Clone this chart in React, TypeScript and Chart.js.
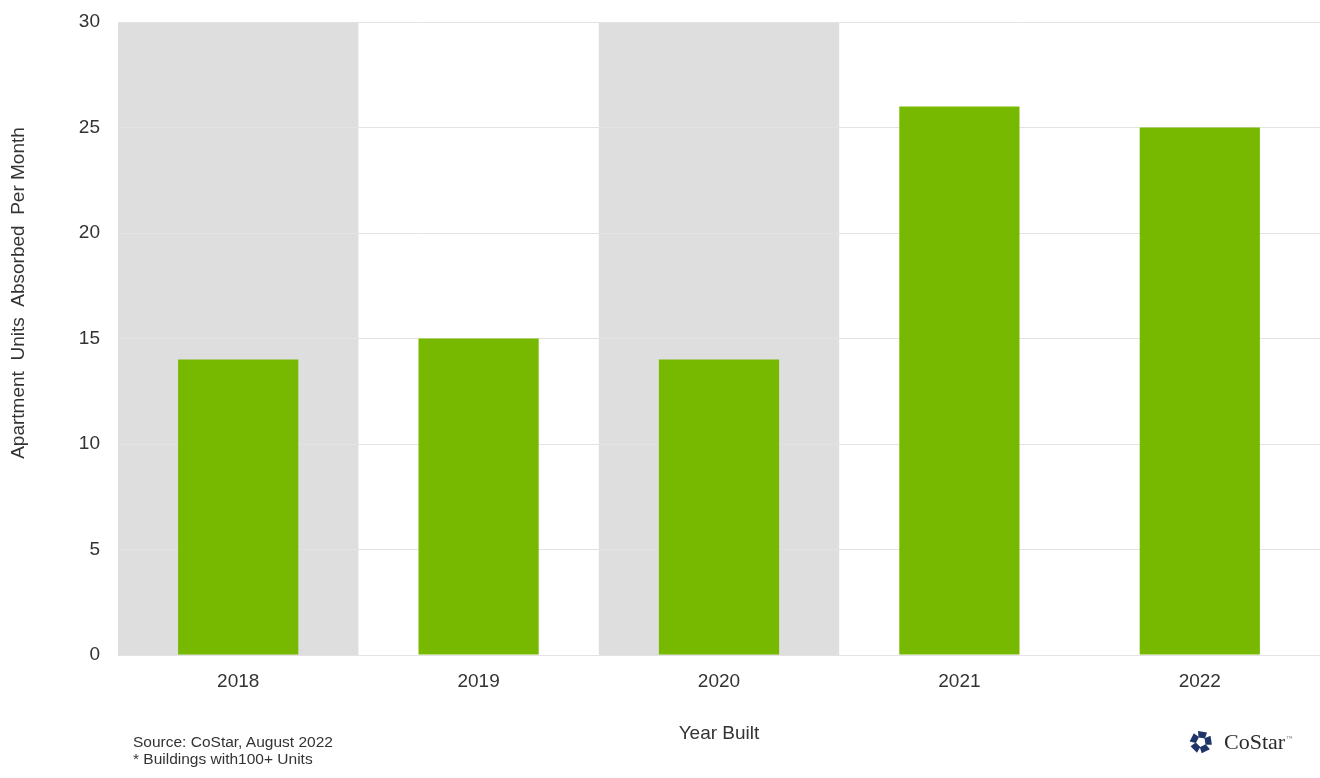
import React, { useEffect, useRef } from "react";
import { Chart, registerables } from "chart.js";

Chart.register(...registerables);

const years = ["2018", "2019", "2020", "2021", "2022"];
const unitsAbsorbed = [14, 15, 14, 26, 25];
const shadedYears = ["2018", "2020"];
const yTicks = [0, 5, 10, 15, 20, 25, 30];
const yTitle = "Apartment  Units  Absorbed  Per Month";
const xTitle = "Year Built";
const sourceLines = ["Source: CoStar, August 2022", "* Buildings with100+ Units"];
const brand = "CoStar";

const FONT = "'Liberation Sans', Arial, sans-serif";
const TEXT = "#333333";

const bandPlugin = {
  id: "bands",
  beforeDraw(chart: any) {
    const { ctx, chartArea, scales } = chart;
    const x = scales.x;
    const half = (x.getPixelForValue(1) - x.getPixelForValue(0)) / 2;
    ctx.save();
    ctx.fillStyle = "#dedede";
    shadedYears.forEach((yr) => {
      const i = years.indexOf(yr);
      const c = x.getPixelForValue(i);
      ctx.fillRect(c - half, chartArea.top, half * 2, chartArea.bottom - chartArea.top);
    });
    ctx.restore();
  },
};

const yTitlePlugin = {
  id: "ytitle",
  afterDraw(chart: any) {
    const { ctx } = chart;
    ctx.save();
    ctx.translate(19, 293);
    ctx.rotate(-Math.PI / 2);
    ctx.fillStyle = TEXT;
    ctx.font = `19px ${FONT}`;
    ctx.textAlign = "center";
    ctx.textBaseline = "middle";
    ctx.fillText(yTitle, 0, 0);
    ctx.restore();
  },
};

function Logo() {
  const shapes = [0, 1, 2, 3, 4].map((k) => (
    <polygon
      key={k}
      points="-3,-11 6,-9.5 4,-3.5 -2.5,-4.5"
      fill="#1f3569"
      transform={`rotate(${k * 72})`}
    />
  ));
  return (
    <div
      style={{
        position: "absolute",
        left: 1189,
        top: 729,
        display: "flex",
        alignItems: "center",
        height: 26,
      }}
    >
      <svg width={24} height={24} viewBox="-12 -12 24 24">
        {shapes}
      </svg>
      <span
        style={{
          fontFamily: "'Liberation Serif', 'Times New Roman', serif",
          fontSize: 22,
          color: "#2b2b2b",
          marginLeft: 11,
          lineHeight: "26px",
        }}
      >
        {brand}
      </span>
      <span style={{ fontSize: 6, color: "#777", marginLeft: 1, marginTop: -8 }}>™</span>
    </div>
  );
}

export default function App() {
  const ref = useRef<HTMLCanvasElement | null>(null);

  useEffect(() => {
    document.body.style.margin = "0";
    const canvas = ref.current;
    if (!canvas) return;
    const chart = new Chart(canvas, {
      type: "bar",
      data: {
        labels: years,
        datasets: [
          {
            data: unitsAbsorbed,
            backgroundColor: "#77b900",
            barPercentage: 0.5,
            categoryPercentage: 1.0,
          },
        ],
      },
      options: {
        animation: false,
        responsive: false,
        devicePixelRatio: 1,
        layout: { padding: { top: 22, left: 0, right: 0, bottom: 0 } },
        plugins: {
          legend: { display: false },
          tooltip: { enabled: false },
        },
        scales: {
          x: {
            grid: { display: false },
            border: { display: false },
            ticks: {
              font: { family: FONT, size: 19 },
              color: TEXT,
              padding: 7,
            },
            title: {
              display: true,
              text: xTitle,
              font: { family: FONT, size: 19 },
              color: TEXT,
              padding: { top: 0, bottom: 33 },
            },
            afterFit(s: any) {
              s.height = 123;
            },
          },
          y: {
            min: 0,
            max: 30,
            grid: { color: "#e3e3e3", drawTicks: false, lineWidth: 1 },
            border: { display: false },
            ticks: {
              font: { family: FONT, size: 19 },
              color: TEXT,
              padding: 18,
            },
            afterBuildTicks(s: any) {
              s.ticks = yTicks.map((v) => ({ value: v }));
            },
            afterFit(s: any) {
              s.width = 118;
              s.paddingTop = 0;
              s.paddingBottom = 0;
            },
          },
        },
      },
      plugins: [bandPlugin, yTitlePlugin],
    } as any);
    return () => chart.destroy();
  }, []);

  return (
    <div style={{ position: "fixed", left: 0, top: 0, width: 1320, height: 778, background: "#fff" }}>
      <canvas ref={ref} width={1320} height={778} style={{ display: "block" }} />
      <div
        style={{
          position: "absolute",
          left: 133,
          top: 733,
          fontFamily: FONT,
          fontSize: 15.5,
          lineHeight: "17px",
          color: TEXT,
          whiteSpace: "pre",
        }}
      >
        {sourceLines.map((l, i) => (
          <div key={i}>{l}</div>
        ))}
      </div>
      <Logo />
    </div>
  );
}
